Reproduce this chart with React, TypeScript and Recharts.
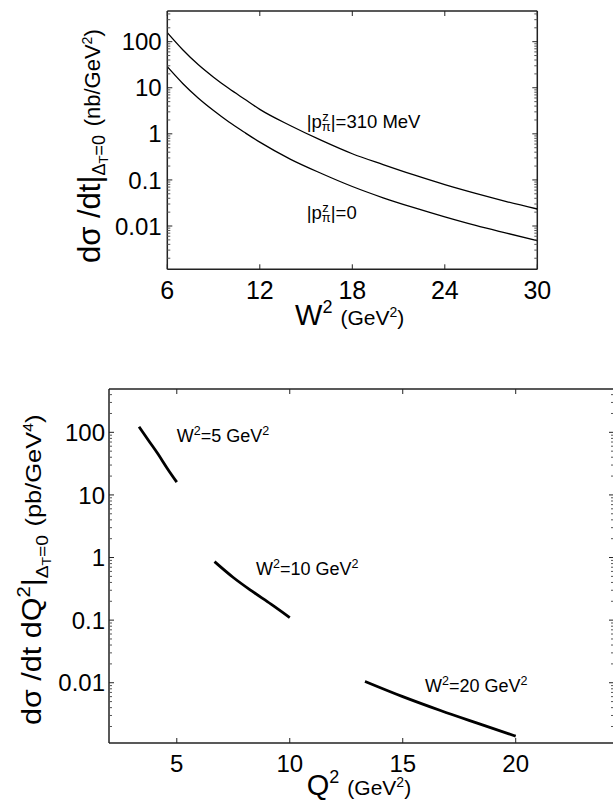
import { LineChart, Line, XAxis, YAxis, ReferenceLine } from 'recharts'

const FONT = '"Liberation Sans", Arial, Helvetica, sans-serif'
const INK = '#222'

// top panel: dσ/dt at Δ_T=0 vs W²
const w2Values = [6, 7, 8, 9, 10, 11, 12, 14, 16, 18, 20, 22, 24, 26, 28, 30]
const sigmaPz310 = [157, 67, 32, 17, 9.6, 5.7, 3.4, 1.5, 0.72, 0.37, 0.215, 0.128, 0.079, 0.051, 0.034, 0.0234]
const sigmaPz0 = [28.6, 12.4, 6.0, 3.2, 1.8, 1.08, 0.66, 0.28, 0.138, 0.072, 0.041, 0.025, 0.0158, 0.0103, 0.007, 0.0048]
const w2Ticks = [6, 12, 18, 24, 30]

// bottom panel: dσ/dt dQ² at Δ_T=0 vs Q², one segment per W²
const q2W5 = [3.33, 3.75, 4.17, 4.58, 5.0]
const sigW5 = [123, 74, 45, 26.5, 16]
const q2W10 = [6.67, 7.5, 8.33, 9.17, 10]
const sigW10 = [0.86, 0.48, 0.29, 0.18, 0.11]
const q2W20 = [13.33, 15, 16.67, 18.33, 20]
const sigW20 = [0.0105, 0.006, 0.0036, 0.00224, 0.0014]
const q2Ticks = [5, 10, 15, 20]

// log axis ticks
const decadeTicks = [0.01, 0.1, 1, 10, 100]
const minorDecades = [0.001, 0.01, 0.1, 1, 10, 100]
const minorSteps = [2, 3, 4, 5, 6, 7, 8, 9]

const topXDomain = [6, 30]
const topYDomain = [0.00115, 463]
const bottomXDomain = [2, 24.35]
const bottomYDomain = [0.00109, 492]

// chart boxes (svg size, margins, axis sizes)
const TOP = { w: 613, h: 340, mTop: 11, mRight: 75.7, yAxisW: 167.3, xAxisH: 70.7 }
const BOT = { w: 620, h: 454, mTop: 39, mRight: 6, yAxisW: 109, xAxisH: 61 }
const plotW = (c: typeof TOP) => c.w - c.mRight - c.yAxisW
const plotH = (c: typeof TOP) => c.h - c.mTop - c.xAxisH

const logTicks = (domain: number[]) => {
  const minors: number[] = []
  minorDecades.forEach(d => minorSteps.forEach(s => minors.push(+(d * s).toPrecision(3))))
  return [...decadeTicks, ...minors].filter(v => v >= domain[0] && v <= domain[1]).sort((a, b) => a - b)
}

const topData = w2Values.map((w, i) => ({ w2: w, p310: sigmaPz310[i], p0: sigmaPz0[i] }))
const bottomData = [
  ...q2W5.map((q, i) => ({ q2: q, w5: sigW5[i] })),
  ...q2W10.map((q, i) => ({ q2: q, w10: sigW10[i] })),
  ...q2W20.map((q, i) => ({ q2: q, w20: sigW20[i] })),
]

// left-axis tick: inward tick on the left border, mirrored one on the right border
const LogTick = (props: any) => {
  const { x, y, payload, labelSize, labelGap, boxW } = props
  const v = payload.value
  const major = decadeTicks.includes(v)
  const len = major ? 5 : 3
  const col = major ? INK : '#555'
  return (
    <g>
      <line x1={x} y1={y} x2={x + len} y2={y} stroke={col} strokeWidth={1} />
      <line x1={x + boxW} y1={y} x2={x + boxW - len} y2={y} stroke={col} strokeWidth={1} />
      {major && (
        <text x={x - labelGap} y={y + labelSize * 0.36} textAnchor="end" fontSize={labelSize} fontFamily={FONT} fill="#000">
          {String(v)}
        </text>
      )}
    </g>
  )
}

// bottom-axis tick: inward tick on the bottom border, mirrored one on the top border
const LinTick = (props: any) => {
  const { x, y, payload, labelSize, labelGap, boxH } = props
  return (
    <g>
      <line x1={x} y1={y} x2={x} y2={y - 5} stroke={INK} strokeWidth={1} />
      <line x1={x} y1={y - boxH} x2={x} y2={y - boxH + 5} stroke={INK} strokeWidth={1} />
      <text x={x} y={y + labelGap} textAnchor="middle" fontSize={labelSize} fontFamily={FONT} fill="#000">
        {payload.value}
      </text>
    </g>
  )
}

const axisLine = { stroke: INK, strokeWidth: 1.5 }

const Sup = ({ t, size, lift }: { t: string; size: number; lift: number }) => (
  <span style={{ fontSize: size, position: 'relative', top: -lift }}>{t}</span>
)

const PzLabel = ({ value }: { value: string }) => (
  <>
    |p
    <span style={{ position: 'relative', display: 'inline-block', fontSize: 13 }}>
      <span style={{ position: 'absolute', left: 0.5, top: -7 }}>z</span>
      <span style={{ position: 'relative', top: 3 }}>π</span>
    </span>
    |={value}
  </>
)

const abs = (left: number, top: number, size: number, extra: any = {}) => ({
  position: 'absolute' as const,
  left,
  top,
  fontSize: size,
  lineHeight: 1,
  whiteSpace: 'nowrap' as const,
  ...extra,
})

const App = () => {
  return (
    <div style={{ position: 'absolute', left: 0, top: 0, width: 613, height: 804, overflow: 'hidden', background: '#fff', fontFamily: FONT, color: '#000' }}>
      <div style={{ position: 'absolute', left: 0, top: 0 }}>
        <LineChart width={TOP.w} height={TOP.h} data={topData} margin={{ top: TOP.mTop, right: TOP.mRight, bottom: 0, left: 0 }}>
          <XAxis dataKey="w2" type="number" domain={topXDomain} ticks={w2Ticks} allowDataOverflow height={TOP.xAxisH}
            tickSize={0} tickMargin={0} tickLine={false} interval={0} axisLine={axisLine}
            tick={<LinTick labelSize={25} labelGap={30} boxH={plotH(TOP)} />} />
          <YAxis type="number" scale="log" domain={topYDomain} ticks={logTicks(topYDomain)} allowDataOverflow width={TOP.yAxisW}
            tickSize={0} tickMargin={0} tickLine={false} interval={0} axisLine={axisLine}
            tick={<LogTick labelSize={24} labelGap={5.6} boxW={plotW(TOP)} />} />
          <ReferenceLine x={topXDomain[1]} stroke={INK} strokeWidth={1.5} />
          <ReferenceLine y={topYDomain[1]} stroke={INK} strokeWidth={1.5} />
          <Line dataKey="p310" type="monotone" stroke="#000" strokeWidth={1.3} dot={false} isAnimationActive={false} />
          <Line dataKey="p0" type="monotone" stroke="#000" strokeWidth={1.3} dot={false} isAnimationActive={false} />
        </LineChart>
      </div>

      <div style={{ position: 'absolute', left: 0, top: 350 }}>
        <LineChart width={BOT.w} height={BOT.h} data={bottomData} margin={{ top: BOT.mTop, right: BOT.mRight, bottom: 0, left: 0 }}>
          <XAxis dataKey="q2" type="number" domain={bottomXDomain} ticks={q2Ticks} allowDataOverflow height={BOT.xAxisH}
            tickSize={0} tickMargin={0} tickLine={false} interval={0} axisLine={axisLine}
            tick={<LinTick labelSize={24} labelGap={28.7} boxH={plotH(BOT)} />} />
          <YAxis type="number" scale="log" domain={bottomYDomain} ticks={logTicks(bottomYDomain)} allowDataOverflow width={BOT.yAxisW}
            tickSize={0} tickMargin={0} tickLine={false} interval={0} axisLine={axisLine}
            tick={<LogTick labelSize={24} labelGap={4} boxW={plotW(BOT)} />} />
          <ReferenceLine x={bottomXDomain[1]} stroke={INK} strokeWidth={1.5} />
          <ReferenceLine y={bottomYDomain[1]} stroke={INK} strokeWidth={1.5} />
          <Line dataKey="w5" type="monotone" stroke="#000" strokeWidth={2.8} dot={false} isAnimationActive={false} />
          <Line dataKey="w10" type="monotone" stroke="#000" strokeWidth={2.8} dot={false} isAnimationActive={false} />
          <Line dataKey="w20" type="monotone" stroke="#000" strokeWidth={2.8} dot={false} isAnimationActive={false} />
        </LineChart>
      </div>

      {/* top panel annotations */}
      <div style={abs(306.7, 112.6, 18.5)}><PzLabel value="310 MeV" /></div>
      <div style={abs(306.7, 204.3, 18.5)}><PzLabel value="0" /></div>

      {/* top panel axis titles */}
      <div style={abs(295, 300.5, 29)}>
        W<Sup t="2" size={18} lift={12} /> <span style={{ fontSize: 21 }}>(GeV<Sup t="2" size={14} lift={8} />)</span>
      </div>
      <div style={abs(73.8, 263, 31, { transformOrigin: '0 0', transform: 'rotate(-90deg)' })}>
        dσ /dt|
        <span style={{ fontSize: 18, position: 'relative', top: 5 }}>
          Δ<span style={{ fontSize: 13, position: 'relative', top: 3 }}>T</span>=0
        </span>{' '}
        <span style={{ fontSize: 22 }}>(nb/GeV<Sup t="2" size={14} lift={8} />)</span>
      </div>

      {/* bottom panel annotations */}
      <div style={abs(176.7, 426.5, 18)}>W<Sup t="2" size={12.5} lift={7} />=5 GeV<Sup t="2" size={12.5} lift={7} /></div>
      <div style={abs(256, 559.8, 18)}>W<Sup t="2" size={12.5} lift={7} />=10 GeV<Sup t="2" size={12.5} lift={7} /></div>
      <div style={abs(425, 676.5, 18)}>W<Sup t="2" size={12.5} lift={7} />=20 GeV<Sup t="2" size={12.5} lift={7} /></div>

      {/* bottom panel axis titles */}
      <div style={abs(306.7, 770.5, 29)}>
        Q<Sup t="2" size={18} lift={12} /> <span style={{ fontSize: 21 }}>(GeV<Sup t="2" size={14} lift={8} />)</span>
      </div>
      <div style={abs(18.8, 725, 27, { transformOrigin: '0 0', transform: 'rotate(-90deg) scaleX(1.13)' })}>
        dσ /dt dQ<Sup t="2" size={18} lift={11} />|
        <span style={{ fontSize: 17, position: 'relative', top: 7 }}>
          Δ<span style={{ fontSize: 12.5, position: 'relative', top: 3 }}>T</span>=0
        </span>{' '}
        <span style={{ fontSize: 22.5 }}>(pb/GeV<Sup t="4" size={14} lift={8} />)</span>
      </div>
    </div>
  )
}

export default App
